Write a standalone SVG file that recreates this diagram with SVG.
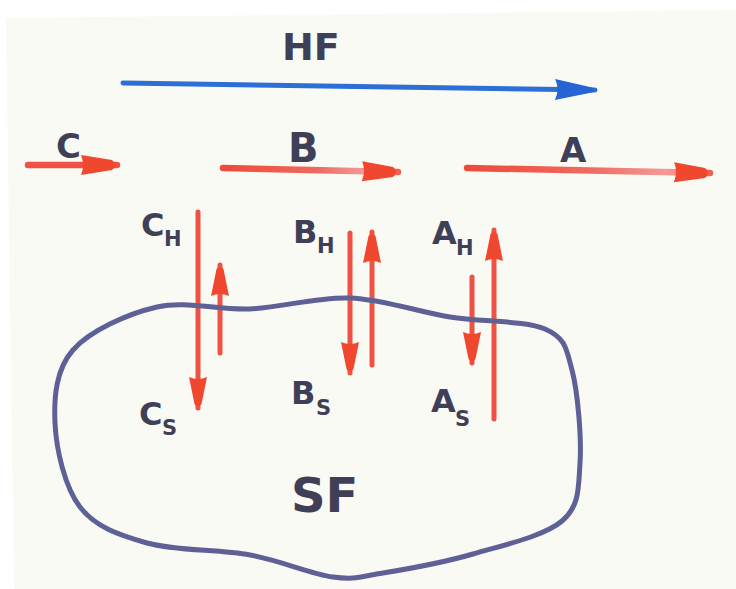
<svg xmlns="http://www.w3.org/2000/svg" width="736" height="589" viewBox="0 0 736 589">
<style>
.lbl{font-family:"DejaVu Sans","Liberation Sans",sans-serif;font-weight:bold;fill:#3f4058}
.sub{font-size:21px}
.red{stroke:#ef5245;stroke-linecap:round;fill:none}
.blue{stroke:#2c6fd6;stroke-width:5;stroke-linecap:round;fill:none}
.blob{stroke:#5d6196;stroke-width:5;fill:none;stroke-linejoin:round}
</style>
<defs>
<marker id="rh" markerUnits="userSpaceOnUse" viewBox="-2 -12 42 24" refX="36" refY="0" markerWidth="42" markerHeight="24" orient="auto">
<path d="M0,-10 L31,-5 Q37,0 31,5 L0,10 Q4,0 0,-10 Z" fill="#f0472f"/>
</marker>
<marker id="rhs" markerUnits="userSpaceOnUse" viewBox="-2 -12 38 24" refX="31" refY="0" markerWidth="38" markerHeight="24" orient="auto">
<path d="M0,-9 L27,-3.5 Q32,0 27,3.5 L0,9 Q4,0 0,-9 Z" fill="#f0472f"/>
</marker>
<marker id="bh" markerUnits="userSpaceOnUse" viewBox="-2 -12 46 24" refX="40" refY="0" markerWidth="46" markerHeight="24" orient="auto">
<path d="M0,-10.5 L37,-2.5 Q41,0 37,2.5 L0,10.5 Q5,0 0,-10.5 Z" fill="#2464d4"/>
</marker>
<linearGradient id="gb" gradientUnits="userSpaceOnUse" x1="223" y1="0" x2="398" y2="0">
<stop offset="0" stop-color="#ee4a3a"/><stop offset="0.55" stop-color="#ef6a5f"/><stop offset="0.8" stop-color="#f39a98"/><stop offset="1" stop-color="#f06050"/>
</linearGradient>
<linearGradient id="ga" gradientUnits="userSpaceOnUse" x1="467" y1="0" x2="710" y2="0">
<stop offset="0" stop-color="#ee4a3a"/><stop offset="0.5" stop-color="#ef6a5f"/><stop offset="0.82" stop-color="#f39a98"/><stop offset="1" stop-color="#f06050"/>
</linearGradient>
</defs>
<rect x="0" y="0" width="736" height="589" fill="#ffffff"/>
<path d="M6,18 L736,10 L736,589 L14,589 Z" fill="#fafaf4"/>

<g id="connectors">
<path id="hf-arrow" class="blue" d="M123,83 L595,90" marker-end="url(#bh)"/>
<path id="c-arrow" class="red" stroke-width="6.5" d="M28,165 L117,165" marker-end="url(#rh)"/>
<path id="b-arrow" class="red" style="stroke:url(#gb)" stroke-width="6.5" d="M223,168 L398,172" marker-end="url(#rh)"/>
<path id="a-arrow" class="red" style="stroke:url(#ga)" stroke-width="6.5" d="M467,168 L710,173" marker-end="url(#rh)"/>
<path id="c-down" class="red" stroke-width="5" d="M198,212 L198,408" marker-end="url(#rhs)"/>
<path id="c-up" class="red" stroke-width="5" d="M220,353 L220,265" marker-end="url(#rhs)"/>
<path id="b-down" class="red" stroke-width="5" d="M350,233 L350,373" marker-end="url(#rhs)"/>
<path id="b-up" class="red" stroke-width="5" d="M372,365 L372,232" marker-end="url(#rhs)"/>
<path id="a-down" class="red" stroke-width="5" d="M472,277 L472,363" marker-end="url(#rhs)"/>
<path id="a-up" class="red" stroke-width="5" d="M494,419 L494,230" marker-end="url(#rhs)"/>
</g>

<g id="sf">
<path class="blob" d="M73,350 C90,330.7 127.5,313.8 157,307 C186.5,300.2 217.8,310.5 250,309 C282.2,307.5 316.7,296.7 350,298 C383.3,299.3 417.5,311.8 450,317 C482.5,322.2 524.7,320.2 545,329 C565.3,337.8 566.2,347.7 572,370 C577.8,392.3 581.7,437.8 580,463 C578.3,488.2 579.8,505.8 562,521 C544.2,536.2 502.8,545.3 473,554 C443.2,562.7 406.3,569.2 383,573 C359.7,576.8 355.2,580 333,577 C310.8,574 281,560.7 250,555 C219,549.3 175.3,551 147,543 C118.7,535 95.3,527 80,507 C64.7,487 56.2,449.2 55,423 C53.8,396.8 56,369.3 73,350 Z"/>
<text class="lbl" x="291" y="512" font-size="48">SF</text>
</g>

<g id="hf"><text class="lbl" x="282" y="60" font-size="38">HF</text></g>
<g id="c"><text class="lbl" x="56" y="158" font-size="34">C</text></g>
<g id="b"><text class="lbl" x="288" y="162" font-size="40">B</text></g>
<g id="a"><text class="lbl" x="560" y="162" font-size="34">A</text></g>

<g id="ch"><text class="lbl" font-size="32"><tspan x="141" y="236">C</tspan><tspan class="sub" x="164" y="246">H</tspan></text></g>
<g id="bh-label"><text class="lbl" font-size="32"><tspan x="293" y="243">B</tspan><tspan class="sub" x="317" y="253">H</tspan></text></g>
<g id="ah"><text class="lbl" font-size="32"><tspan x="432" y="244">A</tspan><tspan class="sub" x="456" y="255">H</tspan></text></g>
<g id="cs"><text class="lbl" font-size="32"><tspan x="139" y="425">C</tspan><tspan class="sub" x="162" y="435">S</tspan></text></g>
<g id="bs"><text class="lbl" font-size="32"><tspan x="291" y="404">B</tspan><tspan class="sub" x="316" y="415">S</tspan></text></g>
<g id="as"><text class="lbl" font-size="32"><tspan x="431" y="412">A</tspan><tspan class="sub" x="455" y="426">S</tspan></text></g>
</svg>
